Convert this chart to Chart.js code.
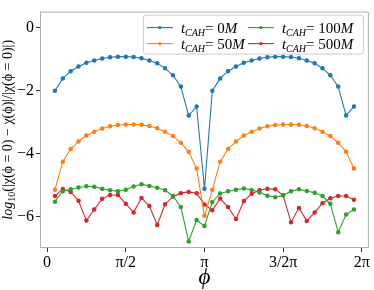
<!DOCTYPE html>
<html>
<head>
<meta charset="utf-8">
<script src="https://cdn.jsdelivr.net/npm/chart.js@4/dist/chart.umd.min.js"></script>
<style>
  html, body { margin: 0; padding: 0; background: #fff; }
  #wrap { width: 374px; height: 290px; }
</style>
</head>
<body>
<div id="wrap"><canvas id="chiChart"></canvas></div>
<script>
// phi grid (k * pi / 20, k = 1..39)
const phiValues = [0.157, 0.314, 0.471, 0.628, 0.785, 0.942, 1.100, 1.257, 1.414, 1.571,
  1.728, 1.885, 2.042, 2.199, 2.356, 2.513, 2.670, 2.827, 2.985, 3.142,
  3.299, 3.456, 3.613, 3.770, 3.927, 4.084, 4.241, 4.398, 4.555, 4.712,
  4.869, 5.027, 5.184, 5.341, 5.498, 5.655, 5.812, 5.969, 6.126];

const cah0 = [-2.01, -1.62, -1.39, -1.24, -1.12, -1.05, -0.99, -0.95, -0.93, -0.93,
  -0.94, -0.98, -1.05, -1.14, -1.30, -1.52, -1.88, -2.80, -2.51, -5.12,
  -2.01, -1.62, -1.39, -1.24, -1.12, -1.05, -0.99, -0.95, -0.93, -0.93,
  -0.94, -0.98, -1.05, -1.14, -1.30, -1.52, -1.88, -2.80, -2.51];

const cah50 = [-5.15, -4.26, -3.86, -3.62, -3.43, -3.31, -3.21, -3.14, -3.10, -3.08,
  -3.08, -3.09, -3.13, -3.20, -3.31, -3.45, -3.66, -3.95, -4.48, -5.98,
  -5.15, -4.26, -3.86, -3.62, -3.43, -3.31, -3.21, -3.14, -3.10, -3.08,
  -3.08, -3.09, -3.13, -3.20, -3.31, -3.45, -3.66, -3.95, -4.48];

const cah100 = [-5.53, -5.20, -5.14, -5.08, -5.04, -5.06, -5.12, -5.17, -5.20, -5.15,
  -5.05, -4.98, -5.03, -5.09, -5.17, -5.35, -5.70, -6.79, -6.11, -6.30,
  -5.54, -5.27, -5.20, -5.15, -5.11, -5.16, -5.24, -5.34, -5.39, -5.33,
  -5.20, -5.14, -5.19, -5.25, -5.35, -5.60, -6.50, -5.94, -5.78];

const cah500 = [-5.35, -5.13, -5.22, -5.50, -6.13, -5.78, -5.44, -5.32, -5.32, -5.60,
  -5.87, -5.41, -5.67, -6.27, -5.61, -5.37, -5.26, -5.22, -5.26, -5.62,
  -5.80, -5.43, -5.70, -6.08, -5.51, -5.28, -5.17, -5.12, -5.14, -5.33,
  -6.18, -5.73, -6.14, -5.87, -5.58, -5.42, -5.35, -5.35, -5.47];

const xTickValues = [0, Math.PI / 2, Math.PI, 3 * Math.PI / 2, 2 * Math.PI];
const xTickLabels = ["0", "π/2", "π", "3/2π", "2π"];
const yTickValues = [-6, -4, -2, 0];
const legendTimes = ["0", "50", "100", "500"];

const SERIF = "'Liberation Serif', 'DejaVu Serif', serif";
const colors = ["#1f77b4", "#ff7f0e", "#2ca02c", "#d62728"];

function toPoints(ys) {
  return ys.map((y, i) => ({ x: phiValues[i], y: y }));
}

function makeSet(label, ys, color) {
  return {
    label: label,
    data: toPoints(ys),
    borderColor: color,
    backgroundColor: color,
    borderWidth: 1.1,
    pointRadius: 1.7,
    pointStyle: "circle",
    tension: 0,
  };
}

// grey box round the plot, like matplotlib spines
const frameBox = {
  id: "frameBox",
  afterDraw(chart) {
    const { ctx, chartArea: a } = chart;
    ctx.save();
    ctx.strokeStyle = "#b0b0b0";
    ctx.lineWidth = 1;
    ctx.strokeRect(a.left + 0.5, a.top + 0.5, a.right - a.left - 1, a.bottom - a.top - 1);
    ctx.restore();
  }
};

// rotated y title: italic "log", subscript 10
const yTitle = {
  id: "yTitle",
  afterDraw(chart) {
    const { ctx, chartArea: a } = chart;
    const parts = [
      ["italic 14px " + SERIF, "log", 0],
      ["10px " + SERIF, "10", 3],
      ["14px " + SERIF, "(|χ(ϕ = 0) − χ(ϕ)|/|χ(ϕ = 0)|)", 0],
    ];
    ctx.save();
    let total = 0;
    parts.forEach(p => { ctx.font = p[0]; total += ctx.measureText(p[1]).width; });
    ctx.translate(12, (a.top + a.bottom) / 2);
    ctx.rotate(-Math.PI / 2);
    ctx.fillStyle = "#000";
    ctx.textBaseline = "alphabetic";
    let x = -total / 2;
    parts.forEach(p => {
      ctx.font = p[0];
      ctx.fillText(p[1], x, p[2]);
      x += ctx.measureText(p[1]).width;
    });
    ctx.restore();
  }
};

// legend with t_CAH subscripts, two columns
const subLegend = {
  id: "subLegend",
  afterDraw(chart) {
    const { ctx, chartArea: a } = chart;
    const boxW = 220, boxH = 39;
    const bx = a.right - boxW - 6, by = a.top + 3;
    ctx.save();
    ctx.fillStyle = "rgba(255,255,255,0.85)";
    ctx.strokeStyle = "#cccccc";
    ctx.lineWidth = 1;
    ctx.beginPath();
    ctx.roundRect(bx + 0.5, by + 0.5, boxW, boxH, 3);
    ctx.fill();
    ctx.stroke();

    const cols = [bx + 4, bx + 105];
    const rows = [by + 13, by + 29];
    const order = [[0, 0, 0], [1, 0, 1], [2, 1, 0], [3, 1, 1]];
    order.forEach(([i, c, r]) => {
      const x0 = cols[c], y0 = rows[r];
      ctx.strokeStyle = colors[i];
      ctx.fillStyle = colors[i];
      ctx.lineWidth = 1.1;
      ctx.beginPath();
      ctx.moveTo(x0, y0);
      ctx.lineTo(x0 + 26, y0);
      ctx.stroke();
      ctx.beginPath();
      ctx.arc(x0 + 13, y0, 1.7, 0, Math.PI * 2);
      ctx.fill();

      ctx.fillStyle = "#000";
      ctx.textBaseline = "alphabetic";
      let tx = x0 + 34;
      const base = y0 + 5;
      ctx.font = "italic 15px " + SERIF;
      ctx.fillText("t", tx, base);
      tx += ctx.measureText("t").width;
      ctx.font = "italic 10px " + SERIF;
      ctx.fillText("CAH", tx, base + 3);
      tx += ctx.measureText("CAH").width;
      ctx.font = "15px " + SERIF;
      const num = "= " + legendTimes[i];
      ctx.fillText(num, tx, base);
      tx += ctx.measureText(num).width;
      ctx.font = "italic 15px " + SERIF;
      ctx.fillText("M", tx, base);
    });
    ctx.restore();
  }
};

new Chart(document.getElementById("chiChart"), {
  type: "line",
  data: {
    datasets: [
      makeSet("t_CAH= 0M", cah0, colors[0]),
      makeSet("t_CAH= 50M", cah50, colors[1]),
      makeSet("t_CAH= 100M", cah100, colors[2]),
      makeSet("t_CAH= 500M", cah500, colors[3]),
    ]
  },
  options: {
    responsive: true,
    maintainAspectRatio: false,
    animation: false,
    layout: { padding: { top: 2, right: 5, left: 0, bottom: 0 } },
    plugins: { legend: { display: false }, tooltip: { enabled: false } },
    scales: {
      x: {
        type: "linear",
        min: -0.141,
        max: 6.424,
        afterBuildTicks: (s) => { s.ticks = xTickValues.map(v => ({ value: v })); },
        afterFit: (s) => { s.height = 42; },
        ticks: {
          callback: (v, i) => xTickLabels[i],
          font: { family: SERIF, size: 16 },
          color: "#000",
          padding: 1,
          maxRotation: 0,
          autoSkip: false,
        },
        grid: { drawOnChartArea: false, drawTicks: true, tickLength: 4, color: "#333" },
        border: { display: false },
        title: { display: true, text: "ϕ", font: { family: SERIF, size: 23, style: "italic", lineHeight: 1.0 }, color: "#000", padding: { top: 0, bottom: 1 } },
      },
      y: {
        min: -7,
        max: 0.5,
        afterBuildTicks: (s) => { s.ticks = yTickValues.map(v => ({ value: v })); },
        afterFit: (s) => { s.width = 40; },
        ticks: {
          callback: (v) => (v < 0 ? "−" + Math.abs(v) : String(v)),
          font: { family: SERIF, size: 16 },
          color: "#000",
          padding: 2,
        },
        grid: { drawOnChartArea: false, drawTicks: true, tickLength: 4, color: "#333" },
        border: { display: false },
        title: { display: false },
      }
    }
  },
  plugins: [frameBox, yTitle, subLegend]
});
</script>
</body>
</html>
